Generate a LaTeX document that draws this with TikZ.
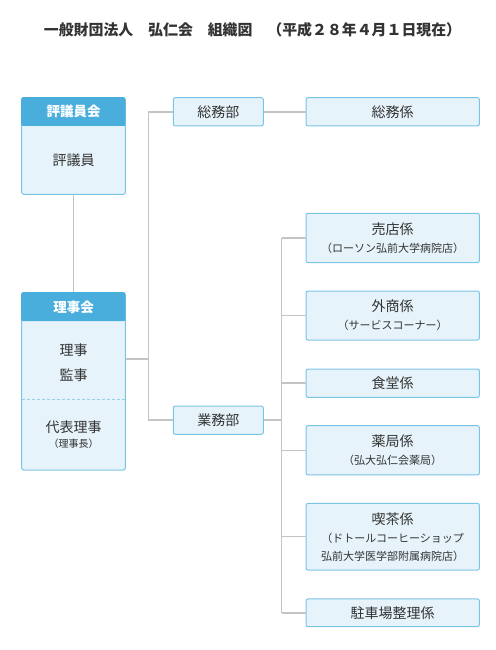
\documentclass[tikz,border=0pt]{standalone}
\usepackage{fontspec}
\setmainfont{Noto Sans CJK JP}
\usetikzlibrary{calc}
\definecolor{hdr}{HTML}{4AAEDD}
\definecolor{boxfill}{HTML}{E6F3FA}
\definecolor{boxline}{HTML}{7CC4E6}
\definecolor{conn}{HTML}{C4C4C4}
\definecolor{txt}{HTML}{333333}
\newcommand{\subtx}[1]{{\fontsize{11}{18}\selectfont #1}}
\begin{document}
\begin{tikzpicture}[x=1pt,y=-1pt,
  box/.style={draw=boxline, fill=boxfill, line width=1pt, rounded corners=2pt,
    inner sep=0pt, text=txt, align=center, font=\fontsize{14}{18}\selectfont},
  wide/.style={box, minimum width=173.3pt},
  dept/.style={box, minimum width=90pt, minimum height=28.3pt},
  council/.style={draw=boxline, fill=boxfill, line width=1pt, rounded corners=2pt,
    inner sep=0pt, minimum width=103.6pt},
  hdrtext/.style={text=white, font=\fontsize{13.5}{16}\selectfont\bfseries},
  bodytext/.style={text=txt, font=\fontsize{14}{16}\selectfont, inner sep=0pt},
  conline/.style={draw=conn, line width=1.5pt}
]
\useasboundingbox (0,0) rectangle (495,650);

% title
\node[text=txt, font=\fontsize{14.9}{16}\selectfont\bfseries] (title) at (252.5,30)
  {一般財団法人　弘仁会　組織図　（平成２８年４月１日現在）};

\coordinate (j1) at (148.7,359);
\coordinate (j2) at (281.7,420.2);

% left council boxes
\node[council, minimum height=96.6pt] (hyo) at (73.5,146) {};
\fill[hdr, rounded corners=2pt] (hyo.north west) rectangle (125.3,126);
\fill[hdr] (21.7,122) rectangle (125.3,126);
\node[hdrtext] (hyoh) at (73.5,111.8) {評議員会};
\node[bodytext] (hyob) at (73.5,160) {評議員};

\node[council, minimum height=177.3pt] (riji) at (73.5,381.35) {};
\fill[hdr, rounded corners=2pt] (riji.north west) rectangle (125.3,321);
\fill[hdr] (21.7,317) rectangle (125.3,321);
\draw[boxline!80, line width=1pt, dash pattern=on 3pt off 2pt] (22.2,399.3) -- (124.8,399.3);
\node[hdrtext] (rijih) at (73.5,307) {理事会};
\node[bodytext] (riji1) at (73.5,350) {理事};
\node[bodytext] (riji2) at (73.5,375) {監事};
\node[bodytext] (riji3) at (73.5,426.7) {代表理事};
\node[text=txt, font=\fontsize{10}{12}\selectfont, inner sep=0pt] (riji4) at (73.5,444) {（理事長）};

% departments
\node[dept] (somu) at (218.3,111.8) {総務部};
\node[dept] (gyomu) at (218.3,420.2) {業務部};

% sections
\node[wide, minimum height=28.3pt] (somuk) at (392.7,111.8) {総務係};
\node[wide, minimum height=49.4pt] (baiten) at (392.7,238) {売店係\\\subtx{（ローソン弘前大学病院店）}};
\node[wide, minimum height=49pt] (gaisho) at (392.7,315.5) {外商係\\\subtx{（サービスコーナー）}};
\node[wide, minimum height=28.3pt] (shokudo) at (392.7,383.2) {食堂係};
\node[wide, minimum height=49.3pt] (yakkyoku) at (392.7,450.3) {薬局係\\\subtx{（弘大弘仁会薬局）}};
\node[wide, minimum height=66.7pt] (kissa) at (392.7,536.7) {喫茶係\\\subtx{（ドトールコーヒーショップ}\\\subtx{弘前大学医学部附属病院店）}};
\node[wide, minimum height=27.7pt] (chusha) at (392.7,612.8) {駐車場整理係};

% connectors
\draw[conline] (hyo.south) -- (riji.north);
\draw[conline] (riji.east |- j1) -- (j1);
\draw[conline] (somu.west) -| (j1) |- (gyomu.west);
\draw[conline] (somu.east) -- (somuk.west);
\draw[conline] (gyomu.east) -- (j2);
\draw[conline] (baiten.west -| j2) -- (chusha.west -| j2);
\foreach \n in {baiten,gaisho,shokudo,yakkyoku,kissa,chusha}
  \draw[conline] (\n.west -| j2) -- (\n.west);
\end{tikzpicture}
\end{document}
